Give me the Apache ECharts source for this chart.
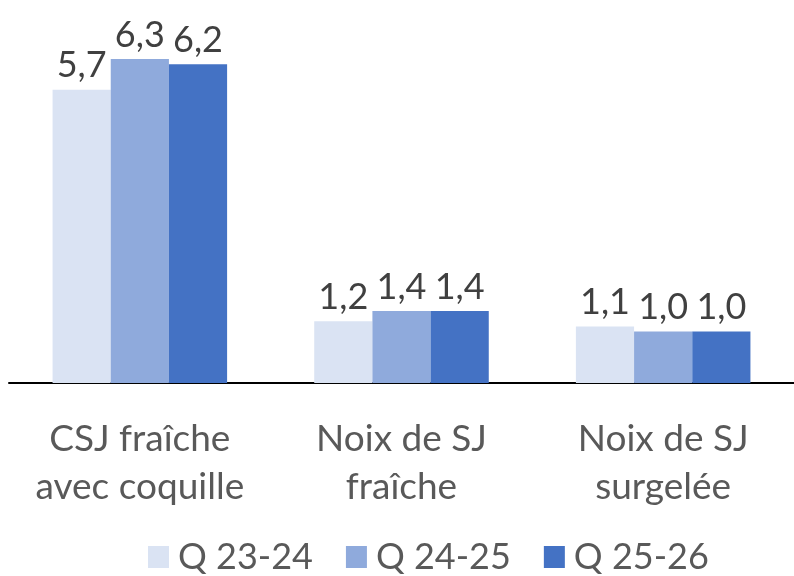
<!DOCTYPE html>
<html>
<head>
<meta charset="utf-8">
<script src="https://cdn.jsdelivr.net/npm/echarts@6/dist/echarts.min.js"></script>
<style>
	html, body { margin: 0; padding: 0; background: #fff; }
	#main { width: 794px; height: 576px; }
</style>
</head>
<body>
<div id="main"></div>
<script>
	// données
	var categories = ['CSJ fraîche\navec coquille', 'Noix de SJ\nfraîche', 'Noix de SJ\nsurgelée'];
	var seriesNames = ['Q 23-24', 'Q 24-25', 'Q 25-26'];
	var q2324 = [5.7, 1.2, 1.1];
	var q2425 = [6.3, 1.4, 1.0];
	var q2526 = [6.2, 1.4, 1.0];
	var colors = ['#dae3f3', '#8faadc', '#4472c4'];

	var font = 'Lato';

	function makeSerie(name, data, color) {
		return {
			name: name,
			type: 'bar',
			data: data,
			barGap: '0%',
			barCategoryGap: '33.3%',
			itemStyle: { color: color },
			label: {
				show: true,
				position: 'top',
				distance: 6,
				fontFamily: font,
				fontSize: 36,
				color: '#404040',
				formatter: function (p) {
					return p.value.toFixed(1).replace('.', ',');
				}
			}
		};
	}

	var myChart = echarts.init(document.getElementById('main'));
	var option = {
		animation: false,
		grid: {
			top: 23,
			left: 9,
			width: 792,
			height: 360
		},
		legend: {
			data: seriesNames,
			bottom: -4,
			left: 143,
			itemWidth: 21,
			itemHeight: 22,
			itemGap: 33,
			icon: 'rect',
			textStyle: {
				fontFamily: font,
				fontSize: 36,
				color: '#595959',
				padding: [0, 0, 0, 4]
			}
		},
		xAxis: {
			type: 'category',
			data: categories,
			axisLine: { show: true, lineStyle: { color: '#000', width: 2 } },
			axisTick: { show: false },
			axisLabel: {
				fontFamily: font,
				fontSize: 37,
				lineHeight: 48,
				color: '#595959',
				margin: 32,
				interval: 0
			}
		},
		yAxis: {
			type: 'value',
			min: 0,
			max: 7,
			show: false,
			splitLine: { show: false }
		},
		series: [
			makeSerie(seriesNames[0], q2324, colors[0]),
			makeSerie(seriesNames[1], q2425, colors[1]),
			makeSerie(seriesNames[2], q2526, colors[2])
		]
	};
	myChart.setOption(option);
</script>
</body>
</html>
